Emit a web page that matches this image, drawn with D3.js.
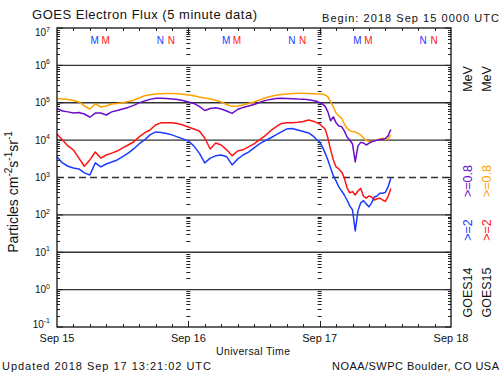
<!DOCTYPE html>
<html>
<head>
<meta charset="utf-8">
<script src="https://cdn.jsdelivr.net/npm/d3@7"></script>
<style>
  body { margin: 0; background: #fff; }
  svg { display: block; font-family: "Liberation Sans", Arial, sans-serif; }
</style>
</head>
<body>
<svg id="chart" width="500" height="375"></svg>
<script>
// hours since 2018 Sep 15 0000 UTC
const hours = [0,1,2,3,4,5,6,7,8,9,10,11,12,13,14,15,16,17,18,19,20,21,22,23,
  24,25,26,27,28,29,30,31,32,33,34,35,36,37,38,39,40,41,42,43,44,45,46,47,
  47.5,48,48.5,49,49.5,50,50.5,51,51.5,52,52.5,53,53.5,54,54.5,55,55.5,56,56.5,
  57,57.5,58,58.5,59,59.5,60,60.5,61];

// GOES15 >=0.8 MeV (orange)
const goes15_08 = [1.3e5,1.26e5,1.23e5,1.15e5,1.05e5,8.2e4,6.8e4,9.3e4,7.7e4,8.2e4,9.3e4,9.6e4,
  1.0e5,1.08e5,1.17e5,1.34e5,1.54e5,1.64e5,1.72e5,1.74e5,1.77e5,1.77e5,1.74e5,1.70e5,
  1.62e5,1.54e5,1.43e5,1.34e5,1.26e5,1.17e5,1.05e5,9.0e4,8.0e4,8.2e4,8.7e4,9.6e4,
  1.05e5,1.19e5,1.34e5,1.47e5,1.59e5,1.67e5,1.72e5,1.77e5,1.79e5,1.79e5,1.77e5,1.74e5,
  1.72e5,1.72e5,1.72e5,1.62e5,1.43e5,1.05e5,7.7e4,5.3e4,4.4e4,3.9e4,2.7e4,2.1e4,1.8e4,
  1.69e4,1.66e4,1.51e4,1.38e4,1.14e4,9.8e3,9.2e3,9.2e3,9.8e3,1.01e4,1.08e4,1.12e4,
  1.04e4,1.08e4,1.38e4];

// GOES14 >=0.8 MeV (purple)
const goes14_08 = [7.0e4,6.0e4,5.7e4,5.3e4,5.5e4,5.0e4,4.1e4,5.3e4,5.3e4,4.7e4,5.7e4,6.2e4,
  6.8e4,7.5e4,8.5e4,9.9e4,1.12e5,1.23e5,1.32e5,1.32e5,1.30e5,1.26e5,1.23e5,1.15e5,
  1.05e5,9.6e4,8.0e4,6.2e4,7.0e4,7.3e4,6.8e4,6.0e4,5.2e4,6.6e4,7.5e4,8.2e4,
  9.0e4,1.02e5,1.14e5,1.23e5,1.30e5,1.32e5,1.30e5,1.28e5,1.26e5,1.25e5,1.20e5,1.13e5,
  1.08e5,1.0e5,9.3e4,8.0e4,5.7e4,3.3e4,4.2e4,2.9e4,2.4e4,2.3e4,1.76e4,1.22e4,1.01e4,
  7.9e3,2.6e3,7.0e3,8.7e3,8.4e3,7.4e3,8.2e3,9.1e3,9.5e3,1.0e4,1.04e4,1.06e4,
  1.11e4,1.30e4,1.93e4];

// GOES15 >=2 MeV (red)
const goes15_2 = [1.46e4,1.01e4,7.0e3,5.5e3,3.3e3,2.0e3,2.95e3,4.8e3,3.3e3,4.0e3,4.5e3,5.1e3,
  6.2e3,7.4e3,8.9e3,1.22e4,1.56e4,1.87e4,2.55e4,2.9e4,2.9e4,2.9e4,2.8e4,2.55e4,
  2.25e4,1.99e4,1.76e4,1.14e4,5.8e3,8.4e3,7.4e3,5.5e3,3.8e3,5.1e3,5.5e3,6.6e3,
  7.9e3,1.01e4,1.30e4,1.76e4,2.25e4,2.8e4,2.9e4,2.9e4,3.0e4,3.16e4,3.46e4,3.16e4,
  2.9e4,2.7e4,2.3e4,1.99e4,1.14e4,5.5e3,2.95e3,1.92e3,1.70e3,1.41e3,980,530,390,
  420,340,440,510,320,280,320,300,250,270,280,250,
  230,310,510];

// GOES14 >=2 MeV (blue)
const goes14_2 = [3.6e3,2.46e3,2.0e3,1.8e3,1.7e3,1.33e3,1.17e3,2.46e3,1.92e3,2.3e3,2.6e3,2.95e3,
  3.6e3,4.5e3,5.8e3,7.9e3,1.01e4,1.38e4,1.66e4,1.61e4,1.51e4,1.38e4,1.22e4,1.08e4,
  9.5e3,7.0e3,4.5e3,2.46e3,3.3e3,3.8e3,4.0e3,3.6e3,2.17e3,3.1e3,4.0e3,4.8e3,
  6.2e3,7.9e3,9.5e3,1.14e4,1.38e4,1.66e4,1.99e4,2.05e4,1.87e4,1.71e4,1.56e4,1.22e4,
  1.01e4,8.9e3,6.6e3,4.5e3,2.95e3,1.8e3,1.1e3,810,560,440,340,250,174,
  136,37,128,210,240,197,164,210,300,320,380,380,
  400,560,950];

// local midnight (M) / noon (N) markers, hours
const midnight14 = [6.9, 30.9, 54.9];
const midnight15 = [8.9, 32.9, 56.9];
const noon14 = [18.9, 42.9, 66.9];
const noon15 = [20.9, 44.9, 68.9];

const dayHours = [0, 24, 48, 72];
const dayLabels = ["Sep 15", "Sep 16", "Sep 17", "Sep 18"];
const decades = [-1, 0, 1, 2, 3, 4, 5, 6, 7];
const gridDecades = [0, 1, 2, 4, 5, 6];
const dashedDecade = 3;

const colors = { o: "#ffa200", p: "#6a0dc8", r: "#ff1414", b: "#1a3cff" };

const W = 500, H = 375;
const margin = { top: 28, right: 49, bottom: 48, left: 57 };

const svg = d3.select("#chart");

const x = d3.scaleLinear().domain([0, 72]).range([margin.left, W - margin.right]);
const y = d3.scaleLog().domain([1e-1, 1e7]).range([H - margin.bottom, margin.top]);

const x0 = x(0), x1 = x(72), yTop = y(1e7), yBot = y(1e-1);

// horizontal grid lines
svg.append("g")
  .selectAll("line")
  .data(gridDecades)
  .join("line")
  .attr("x1", x0).attr("x2", x1)
  .attr("y1", (e) => y(Math.pow(10, e))).attr("y2", (e) => y(Math.pow(10, e)))
  .attr("stroke", "#333").attr("stroke-width", 1.3);

svg.append("line")
  .attr("x1", x0).attr("x2", x1)
  .attr("y1", y(Math.pow(10, dashedDecade))).attr("y2", y(Math.pow(10, dashedDecade)))
  .attr("stroke", "#333").attr("stroke-width", 1.3)
  .attr("stroke-dasharray", "7,4");

// minor log ticks on both y axes and on the day lines
const minorVals = [];
decades.slice(0, -1).forEach((e) => {
  for (let m = 2; m <= 9; m++) minorVals.push(m * Math.pow(10, e));
});
const tickG = svg.append("g").attr("stroke", "#222").attr("stroke-width", 1);
minorVals.forEach((v) => {
  const yy = Math.round(y(v)) + 0.5;
  tickG.append("line").attr("x1", x0).attr("x2", x0 + 3).attr("y1", yy).attr("y2", yy);
  tickG.append("line").attr("x1", x1 - 3).attr("x2", x1).attr("y1", yy).attr("y2", yy);
  [24, 48].forEach((h) => {
    tickG.append("line").attr("x1", x(h) - 2).attr("x2", x(h) + 2).attr("y1", yy).attr("y2", yy);
  });
});
// major decade ticks
decades.forEach((e) => {
  const yy = y(Math.pow(10, e));
  tickG.append("line").attr("x1", x0).attr("x2", x0 + 6).attr("y1", yy).attr("y2", yy);
  tickG.append("line").attr("x1", x1 - 6).attr("x2", x1).attr("y1", yy).attr("y2", yy);
});

// x ticks every 3 hours
d3.range(3, 72, 3).forEach((h) => {
  const len = h % 24 === 0 ? 6 : 3;
  const xx = Math.round(x(h)) + 0.5;
  tickG.append("line").attr("x1", xx).attr("x2", xx).attr("y1", yTop).attr("y2", yTop + len);
  tickG.append("line").attr("x1", xx).attr("x2", xx).attr("y1", yBot - len).attr("y2", yBot);
});

// data lines
const line = d3.line()
  .x((d) => x(d.h))
  .y((d) => y(d.v));

const series = [
  { values: goes15_08, color: colors.o },
  { values: goes14_08, color: colors.p },
  { values: goes15_2, color: colors.r },
  { values: goes14_2, color: colors.b },
];
series.forEach((s) => {
  svg.append("path")
    .datum(hours.map((h, i) => ({ h: h, v: s.values[i] })))
    .attr("fill", "none")
    .attr("stroke", s.color)
    .attr("stroke-width", 1.5)
    .attr("stroke-linejoin", "round")
    .attr("d", line);
});

// frame
svg.append("rect")
  .attr("x", x0).attr("y", yTop)
  .attr("width", x1 - x0).attr("height", yBot - yTop)
  .attr("fill", "none").attr("stroke", "#111").attr("stroke-width", 1.3);

// M / N markers
const markers = [
  { hrs: midnight14, txt: "M", color: colors.b },
  { hrs: midnight15, txt: "M", color: colors.r },
  { hrs: noon14, txt: "N", color: colors.b },
  { hrs: noon15, txt: "N", color: colors.r },
];
markers.forEach((m) => {
  svg.append("g")
    .selectAll("text")
    .data(m.hrs)
    .join("text")
    .attr("x", (h) => x(h))
    .attr("y", 43.5)
    .attr("text-anchor", "middle")
    .attr("font-size", 10)
    .attr("fill", m.color)
    .text(m.txt);
});

// y tick labels
decades.forEach((e) => {
  const yy = y(Math.pow(10, e));
  const base = Math.min(Math.max(yy + 3.5, 36), 327.5);
  const t = svg.append("text")
    .attr("x", 50).attr("y", base)
    .attr("text-anchor", "end")
    .attr("font-size", 10)
    .attr("fill", "#111");
  t.append("tspan").text("10");
  t.append("tspan").attr("font-size", 7).attr("dy", -4.5).text(e);
});

// x labels
svg.append("g")
  .selectAll("text")
  .data(dayHours)
  .join("text")
  .attr("x", (h) => x(h))
  .attr("y", 341.5)
  .attr("text-anchor", "middle")
  .attr("font-size", 11)
  .attr("fill", "#111")
  .text((h, i) => dayLabels[i]);

svg.append("text")
  .attr("x", 253).attr("y", 354.5)
  .attr("text-anchor", "middle")
  .attr("font-size", 10.5)
  .attr("textLength", 74)
  .attr("fill", "#111")
  .text("Universal Time");

// y axis title
const yt = svg.append("text")
  .attr("transform", "translate(18,192) rotate(-90)")
  .attr("text-anchor", "middle")
  .attr("font-size", 14)
  .attr("fill", "#111");
yt.append("tspan").text("Particles cm");
yt.append("tspan").attr("font-size", 10).attr("dy", -6).text("-2");
yt.append("tspan").attr("dy", 6).text("s");
yt.append("tspan").attr("font-size", 10).attr("dy", -6).text("-1");
yt.append("tspan").attr("dy", 6).text("sr");
yt.append("tspan").attr("font-size", 10).attr("dy", -6).text("-1");

// header / footer text
svg.append("text")
  .attr("x", 32).attr("y", 19)
  .attr("font-size", 13).attr("textLength", 225)
  .attr("fill", "#111")
  .text("GOES Electron Flux (5 minute data)");

svg.append("text")
  .attr("x", 322).attr("y", 21.5)
  .attr("font-size", 11).attr("textLength", 177)
  .attr("fill", "#111")
  .text("Begin: 2018 Sep 15 0000 UTC");

svg.append("text")
  .attr("x", 2).attr("y", 370)
  .attr("font-size", 11).attr("textLength", 209)
  .attr("fill", "#111")
  .text("Updated 2018 Sep 17 13:21:02 UTC");

svg.append("text")
  .attr("x", 332).attr("y", 370)
  .attr("font-size", 11).attr("textLength", 167)
  .attr("fill", "#111")
  .text("NOAA/SWPC Boulder, CO USA");

// right-hand legend columns (rotated)
const legendCols = [
  { x: 471.5, items: [
    { t: "GOES14", c: "#111", y: 292.5 },
    { t: ">=2", c: colors.b, y: 230 },
    { t: ">=0.8", c: colors.p, y: 181 },
    { t: "MeV", c: "#111", y: 79 },
  ] },
  { x: 490.5, items: [
    { t: "GOES15", c: "#111", y: 292.5 },
    { t: ">=2", c: colors.r, y: 230 },
    { t: ">=0.8", c: colors.o, y: 181 },
    { t: "MeV", c: "#111", y: 79 },
  ] },
];
legendCols.forEach((col) => {
  col.items.forEach((it) => {
    svg.append("text")
      .attr("transform", "translate(" + col.x + "," + it.y + ") rotate(-90)")
      .attr("text-anchor", "middle")
      .attr("font-size", 12.5)
      .attr("fill", it.c)
      .text(it.t);
  });
});
</script>
</body>
</html>
